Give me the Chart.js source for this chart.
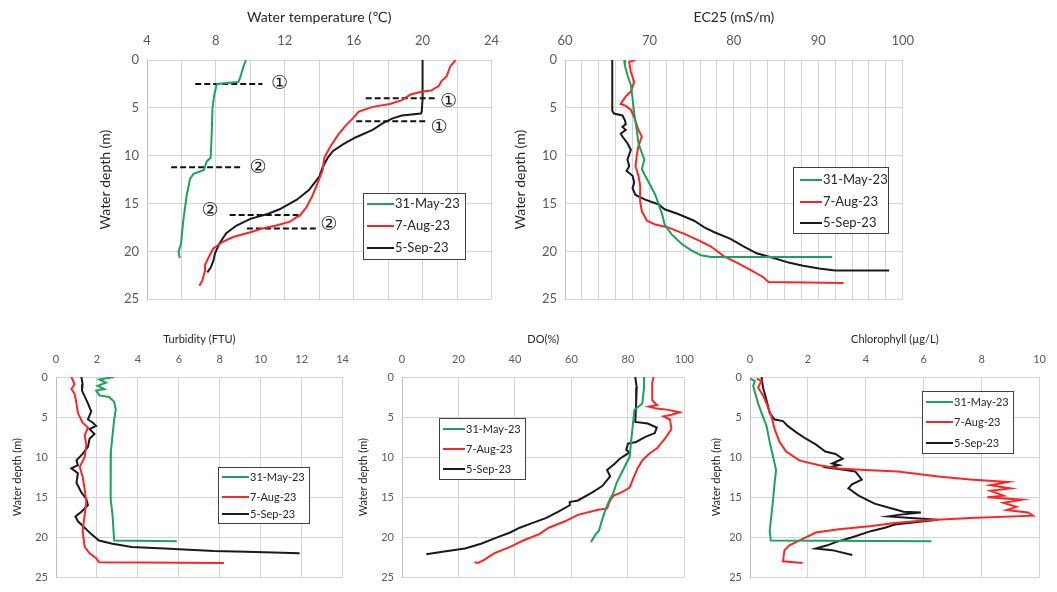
<!DOCTYPE html>
<html>
<head>
<meta charset="utf-8">
<script src="https://cdn.jsdelivr.net/npm/chart.js@4/dist/chart.umd.min.js"></script>
<style>
  body { margin: 0; background: #fff; width: 1057px; height: 592px; position: relative; overflow: hidden; }
  canvas { position: absolute; }
</style>
</head>
<body>
<canvas id="c1" width="420" height="315" style="left:90px;top:0px"></canvas>
<canvas id="c2" width="420" height="315" style="left:505px;top:0px"></canvas>
<canvas id="c3" width="360" height="272" style="left:0px;top:320px"></canvas>
<canvas id="c4" width="355" height="272" style="left:350px;top:320px"></canvas>
<canvas id="c5" width="352" height="272" style="left:705px;top:320px"></canvas>
<script>
const seriesNames = ['31-May-23', '7-Aug-23', '5-Sep-23'];
const seriesColors = ['#1aa35c', '#ff2424', '#1a1a1a'];
const depthTicks = [0, 5, 10, 15, 20, 25];

// each point: [value, depth (m)]
const tempMay = [[9.74,0],[9.6,0.7],[9.4,1.9],[9.3,2.3],[8.05,2.5],[7.9,3.7],[7.8,5.1],[7.76,7.5],[7.7,10.2],[7.47,10.6],[7.3,11.5],[6.7,11.9],[6.5,12.4],[6.3,14.2],[6.1,16.9],[5.97,19.3],[5.83,20.0],[5.9,20.7]];
const tempAug = [[21.92,0],[21.6,0.7],[21.4,1.7],[21.1,2.2],[20.95,2.7],[20.5,3.2],[20.0,3.3],[19.3,3.6],[18.8,4.2],[18.1,4.6],[17.1,4.9],[16.3,5.4],[15.95,6.1],[15.56,6.8],[15.1,7.8],[14.6,9.2],[14.3,10.2],[14.2,11.5],[13.9,12.9],[13.6,14.2],[13.25,15.4],[12.86,16.3],[12.7,16.4],[12.3,16.9],[11.5,17.3],[10.7,17.6],[10.0,18.0],[9.0,18.5],[8.4,19.0],[7.85,19.7],[7.56,20.7],[7.37,21.4],[7.37,22.0],[7.2,23.1],[7.04,23.6]];
const tempSep = [[20.0,0],[20.0,4.1],[19.95,5.4],[19.9,5.6],[18.8,5.8],[18.26,6.1],[17.7,6.6],[17.1,7.3],[16.1,8.1],[15.4,8.8],[14.8,9.5],[14.5,10.2],[14.2,11.2],[14.0,12.2],[13.4,13.6],[12.7,14.6],[11.7,15.6],[11.0,16.1],[10.0,16.6],[9.2,17.3],[8.6,18.1],[8.2,19.2],[7.95,20.2],[7.85,21.0],[7.7,21.7],[7.5,22.2]];
// dashed boundary marks on the temperature panel
const tempMarkLines = [
  [[6.8,2.5],[10.7,2.5]],
  [[16.7,4.0],[20.8,4.0]],
  [[16.15,6.4],[20.2,6.4]],
  [[5.4,11.2],[9.5,11.2]],
  [[8.8,16.2],[12.8,16.2]],
  [[9.8,17.6],[13.8,17.6]]
];
const tempMarkLabels = [['①',11.7,2.55],['①',21.5,4.4],['①',20.95,7.1],['②',10.45,11.25],['②',7.66,15.75],['②',14.55,17.3]];

const ecMay = [[67.0,0],[67.1,0.6],[67.4,1.6],[67.8,2.6],[68.0,4.0],[68.2,5.6],[68.5,7.3],[68.7,8.7],[69.1,9.7],[69.4,10.4],[69.1,11.4],[69.5,12.1],[70.1,13.1],[70.7,14.1],[71.1,15.1],[71.5,16.1],[71.8,17.2],[72.6,18.2],[73.8,19.2],[74.95,19.9],[76.1,20.4],[77.3,20.6],[91.65,20.6]];
const ecAug = [[68.35,0],[67.6,0.2],[67.8,1.25],[68.2,2.3],[67.8,3.3],[67.2,3.8],[66.6,4.6],[67.2,4.8],[67.8,5.2],[68.2,6.0],[68.7,7.3],[69.1,8.0],[68.7,9.0],[68.5,10.0],[68.35,11.1],[68.7,12.1],[68.9,13.1],[68.9,14.8],[69.1,15.8],[69.7,16.8],[70.7,17.2],[72.2,17.5],[74.2,18.2],[75.7,18.8],[77.3,19.5],[78.8,20.5],[80.4,21.2],[81.9,21.9],[83.5,22.7],[84.1,23.2],[93.0,23.3]];
const ecSep = [[65.6,0],[65.6,5.3],[65.8,5.6],[66.8,5.8],[67.1,6.3],[67.2,6.7],[66.8,7.0],[67.2,7.3],[66.6,7.7],[66.8,8.0],[67.4,8.7],[67.8,9.4],[67.4,10.4],[67.6,11.1],[67.3,11.6],[68.0,12.1],[68.2,12.8],[68.0,13.4],[68.35,14.1],[69.5,14.6],[71.1,15.1],[71.8,15.6],[73.4,16.1],[75.3,16.8],[76.5,17.5],[77.7,18.0],[79.6,18.7],[81.2,19.5],[82.7,20.2],[84.7,20.7],[86.6,21.2],[88.2,21.5],[90.1,21.8],[92.0,22.0],[98.4,22.0]];

const turbMay = [[2.84,0],[2.12,0.3],[2.44,0.7],[2.04,1.1],[2.36,1.5],[1.96,1.7],[2.12,2.3],[2.6,2.5],[2.84,3.1],[2.92,4.1],[2.84,5.3],[2.76,7.3],[2.68,9.3],[2.65,11.2],[2.68,13.2],[2.68,15.2],[2.76,17.2],[2.81,19.2],[2.84,20.4],[5.9,20.5]];
const turbAug = [[0.75,0],[0.91,0.9],[0.75,1.5],[0.91,2.1],[1.0,3.3],[1.07,4.5],[1.3,5.7],[1.56,6.3],[1.4,7.3],[1.48,8.5],[1.4,10],[1.16,11.2],[1.3,12.4],[1.4,14],[1.48,15.6],[1.4,17.2],[1.3,19.2],[1.4,21.2],[1.64,22],[1.96,22.6],[2.1,23.1],[8.2,23.2]];
const turbSep = [[1.24,0],[1.3,0.9],[1.27,1.7],[1.56,3.3],[1.72,4.3],[1.56,5.3],[1.8,5.7],[1.96,6.1],[1.64,6.5],[1.88,7.1],[1.64,7.7],[1.56,8.7],[1.3,9.6],[1.0,10.4],[1.07,11.0],[0.75,11.4],[1.07,12.0],[1.0,13.2],[1.24,14.4],[1.48,15.2],[1.56,16.0],[1.24,16.8],[0.95,17.4],[1.07,18.0],[1.4,18.8],[1.72,19.6],[2.1,20.4],[2.76,20.8],[3.7,21.2],[5.3,21.4],[7.7,21.7],[9.3,21.8],[11.9,22.0]];

const doMay = [[85.7,0],[85.7,1.3],[85.1,3.3],[82.3,4.1],[81.7,6.1],[81.1,8.1],[80.6,10.0],[79.4,10.8],[77.7,12.0],[76.0,13.2],[74.9,14.4],[73.1,15.6],[71.4,17.2],[69.7,19.2],[68.6,19.6],[66.9,20.6]];
const doAug = [[89.1,0],[88.6,0.7],[88.6,2.9],[90.3,3.5],[87.4,3.7],[89.7,3.9],[94.3,4.1],[98.3,4.4],[95.4,4.7],[92.6,4.9],[94.9,5.3],[95.4,6.5],[93.1,7.7],[90.3,8.9],[87.4,9.6],[85.1,10.4],[83.4,11.4],[81.7,12.8],[80.6,13.8],[77.7,14.4],[74.9,14.8],[73.7,15.4],[72.6,16.4],[69.1,16.6],[62.3,17.2],[57.7,18.0],[52.0,18.8],[48.6,19.6],[42.9,20.4],[38.3,21.2],[32.6,22.0],[29.1,22.8],[26.9,23.2],[25.7,23.1]];
const doSep = [[82.6,0],[83.1,1.3],[82.9,3.3],[82.6,5.6],[87.0,5.8],[90.2,6.3],[89.5,7.0],[86.0,7.5],[82.9,8.1],[80.0,8.3],[79.4,9.1],[80.6,9.4],[77.1,10.2],[75.4,10.8],[72.6,11.6],[73.7,12.4],[70.9,13.6],[67.4,14.4],[62.3,15.4],[59.4,15.6],[59.4,16.0],[55.4,16.8],[50.9,17.6],[46.3,18.2],[41.7,18.8],[38.3,19.4],[33.7,20.0],[28.0,20.8],[22.3,21.4],[14.3,21.8],[8.6,22.1]];

const chlMay = [[0,0.2],[0.17,0.5],[0.11,1.1],[0.17,1.9],[0.28,3.3],[0.4,4.5],[0.57,6.1],[0.68,8.1],[0.8,10],[0.9,11.6],[0.85,13.2],[0.8,15.2],[0.74,17.2],[0.68,19.2],[0.72,20.4],[6.26,20.5]];
const chlAug = [[0.23,0.2],[0.4,0.5],[0.28,1.3],[0.45,2.3],[0.57,3.3],[0.74,4.9],[0.85,6.5],[1.02,8.1],[1.25,9.3],[1.7,10.4],[2.39,11.0],[3.07,11.4],[3.98,11.6],[5.1,11.8],[6.5,12.4],[7.6,12.8],[8.9,13.1],[8.3,13.5],[9.0,13.9],[8.3,14.2],[8.75,14.8],[8.2,15.0],[9.4,15.3],[8.75,15.7],[9.2,16.2],[8.86,16.6],[9.6,16.9],[9.77,17.3],[7.6,17.6],[6.0,17.9],[5.0,18.2],[4.2,18.6],[3.07,19.0],[2.27,19.4],[1.7,20.4],[1.36,21.0],[1.19,21.6],[1.14,23.0],[1.82,23.2]];
const chlSep = [[0.4,0],[0.45,1.3],[0.57,2.9],[0.68,4.5],[0.85,5.3],[1.14,5.5],[1.3,6.1],[1.6,6.9],[1.93,7.7],[2.27,8.4],[2.6,9.3],[2.95,9.6],[3.2,10.2],[2.84,10.8],[3.07,11.0],[2.67,11.3],[3.3,11.6],[3.64,11.8],[3.86,12.8],[3.52,13.4],[3.4,13.9],[3.75,14.8],[4.3,15.8],[4.9,16.4],[5.3,16.8],[5.9,16.9],[5.12,17.2],[4.77,17.4],[5.57,17.6],[6.48,17.8],[5.0,18.4],[4.66,18.8],[4.2,19.2],[3.53,20.0],[2.96,20.6],[2.67,21.0],[2.27,21.4],[2.84,21.6],[3.53,22.2]];

const FONT = 'Lato, "DejaVu Sans", sans-serif';
const GRID = '#d4d4d4';
const TICK = '#595959';

const toXY = arr => arr.map(p => ({ x: p[0], y: p[1] }));

// draws the boxed legend and the circled labels
const extras = {
  id: 'extras',
  afterDatasetsDraw(chart, args, opts) {
    const ctx = chart.ctx;
    const xs = chart.scales.x, ys = chart.scales.y;
    ctx.save();
    (opts.marks || []).forEach(m => {
      ctx.font = '19px "DejaVu Sans"';
      ctx.fillStyle = '#222';
      ctx.textAlign = 'center';
      ctx.textBaseline = 'middle';
      ctx.fillText(m[0], xs.getPixelForValue(m[1]), ys.getPixelForValue(m[2]));
    });
    const lg = opts.legend;
    if (lg) {
      ctx.fillStyle = '#fff';
      ctx.fillRect(lg.x, lg.y, lg.w, lg.h);
      ctx.strokeStyle = '#404040';
      ctx.lineWidth = 1;
      ctx.strokeRect(lg.x + 0.5, lg.y + 0.5, lg.w, lg.h);
      ctx.font = lg.font + 'px ' + FONT;
      ctx.textAlign = 'left';
      ctx.textBaseline = 'middle';
      seriesNames.forEach((name, i) => {
        const ry = lg.y + lg.rows[i];
        ctx.strokeStyle = seriesColors[i];
        ctx.lineWidth = 2;
        ctx.beginPath();
        ctx.moveTo(lg.x + lg.lx, ry);
        ctx.lineTo(lg.x + lg.lx + lg.len, ry);
        ctx.stroke();
        ctx.fillStyle = '#262626';
        ctx.fillText(name, lg.x + lg.lx + lg.len + 1, ry);
      });
    }
    ctx.restore();
  }
};

function makeChart(id, p) {
  const datasets = p.series.map((s, i) => ({
    data: toXY(s),
    borderColor: seriesColors[i],
    borderWidth: 2,
    showLine: true,
    pointRadius: 0,
    tension: 0
  }));
  (p.markLines || []).forEach(seg => datasets.push({
    data: toXY(seg),
    borderColor: '#111',
    borderWidth: 2,
    borderDash: [6, 3],
    showLine: true,
    pointRadius: 0
  }));
  return new Chart(document.getElementById(id), {
    type: 'scatter',
    data: { datasets },
    plugins: [extras],
    options: {
      responsive: false,
      animation: false,
      layout: { padding: { left: 0, right: p.padRight, top: 0, bottom: p.padBottom } },
      plugins: {
        legend: { display: false },
        tooltip: { enabled: false },
        extras: { legend: p.legend, marks: p.marks }
      },
      scales: {
        x: {
          type: 'linear',
          position: 'top',
          min: p.xMin,
          max: p.xMax,
          afterFit: s => { s.height = p.xAxisHeight; },
          afterBuildTicks: s => {
            s.ticks = [];
            for (let v = p.xMin; v <= p.xMax + 1e-9; v += p.step) s.ticks.push({ value: v });
          },
          ticks: {
            color: TICK,
            font: { family: FONT, size: p.tickSize },
            padding: p.tickPad,
            maxRotation: 0,
            autoSkip: false,
            callback: v => (Math.abs(v % p.labelEvery) < 1e-6) ? String(v) : ''
          },
          grid: { color: GRID, drawTicks: false },
          border: { color: GRID },
          title: {
            display: true,
            text: p.title,
            color: '#262626',
            font: { family: FONT, size: p.titleSize },
            padding: { top: p.titleTop, bottom: 0 }
          }
        },
        y: {
          type: 'linear',
          reverse: true,
          min: 0,
          max: 25,
          afterFit: s => { s.width = p.yAxisWidth; },
          afterBuildTicks: s => { s.ticks = depthTicks.map(v => ({ value: v })); },
          ticks: {
            color: TICK,
            font: { family: FONT, size: p.tickSize },
            padding: 8
          },
          grid: { color: GRID, drawTicks: false },
          border: { color: '#bfbfbf' },
          title: {
            display: true,
            text: 'Water depth (m)',
            color: '#262626',
            font: { family: FONT, size: p.ySize },
            padding: { top: p.yTitleOff, bottom: 2 }
          }
        }
      }
    }
  });
}

makeChart('c1', {
  series: [tempMay, tempAug, tempSep],
  markLines: tempMarkLines,
  marks: tempMarkLabels,
  title: 'Water temperature (℃)',
  xMin: 4, xMax: 24, step: 2, labelEvery: 4,
  xAxisHeight: 60, yAxisWidth: 57, padRight: 18, padBottom: 9,
  tickSize: 13, tickPad: 11, titleSize: 14, titleTop: 9, ySize: 14, yTitleOff: 7,
  legend: { x: 273, y: 193, w: 102, h: 66, lx: 4, len: 27, rows: [11, 33, 55], font: 13 }
});

makeChart('c2', {
  series: [ecMay, ecAug, ecSep],
  title: 'EC25 (mS/m)',
  xMin: 60, xMax: 100, step: 2, labelEvery: 10,
  xAxisHeight: 60, yAxisWidth: 60, padRight: 17, padBottom: 9,
  tickSize: 13, tickPad: 11, titleSize: 14, titleTop: 9, ySize: 14, yTitleOff: 7,
  legend: { x: 288, y: 167, w: 95, h: 66, lx: 7, len: 22, rows: [13, 35, 56], font: 13 }
});

makeChart('c3', {
  series: [turbMay, turbAug, turbSep],
  title: 'Turbidity (FTU)',
  xMin: 0, xMax: 14, step: 2, labelEvery: 2,
  xAxisHeight: 57, yAxisWidth: 56, padRight: 13, padBottom: 7,
  tickSize: 11, tickPad: 11, titleSize: 11, titleTop: 13, ySize: 11, yTitleOff: 11,
  legend: { x: 218, y: 147, w: 91, h: 56, lx: 4, len: 27, rows: [10, 30, 47], font: 11 }
});

makeChart('c4', {
  series: [doMay, doAug, doSep],
  title: 'DO(%)',
  xMin: 0, xMax: 100, step: 20, labelEvery: 20,
  xAxisHeight: 57, yAxisWidth: 52, padRight: 12, padBottom: 7,
  tickSize: 11, tickPad: 11, titleSize: 11, titleTop: 13, ySize: 11, yTitleOff: 7,
  legend: { x: 89, y: 98, w: 86, h: 61, lx: 4, len: 22, rows: [11, 31, 51], font: 11 }
});

makeChart('c5', {
  series: [chlMay, chlAug, chlSep],
  title: 'Chlorophyll (µg/L)',
  xMin: 0, xMax: 10, step: 2, labelEvery: 2,
  xAxisHeight: 57, yAxisWidth: 45, padRight: 9, padBottom: 7,
  tickSize: 11, tickPad: 11, titleSize: 11, titleTop: 13, ySize: 11, yTitleOff: 5,
  legend: { x: 217, y: 71, w: 91, h: 62, lx: 4, len: 27, rows: [11, 31, 52], font: 11 }
});
</script>
</body>
</html>
